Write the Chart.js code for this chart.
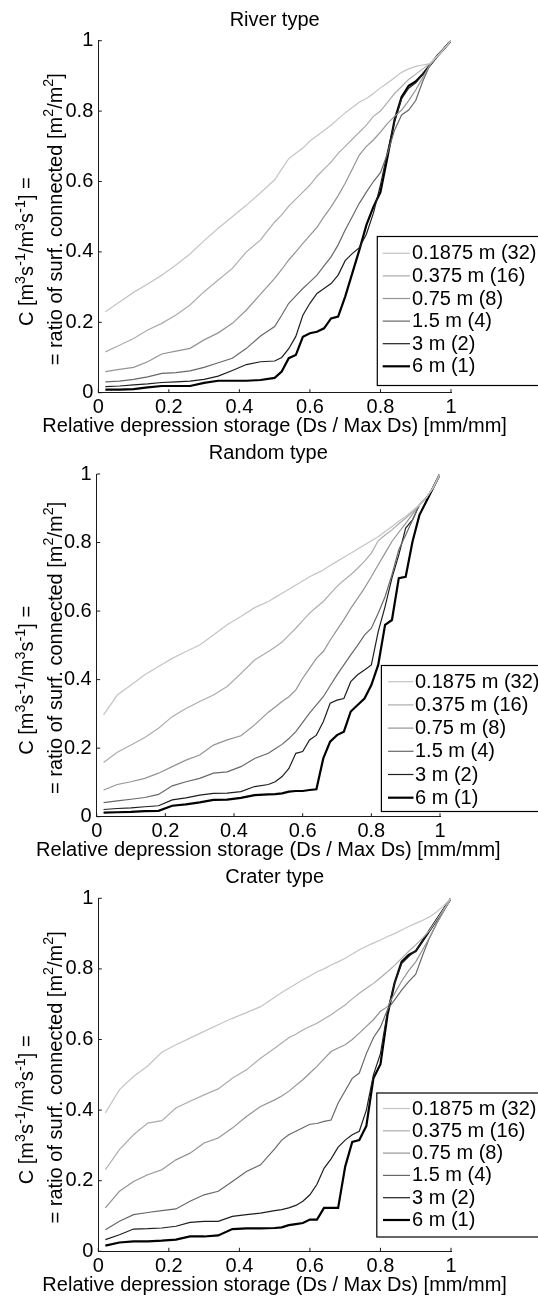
<!DOCTYPE html>
<html><head><meta charset="utf-8">
<script src="https://cdn.jsdelivr.net/npm/chart.js@4.4.0/dist/chart.umd.min.js"></script>
<style>
html,body{margin:0;padding:0;background:#fff;width:538px;height:1297px;overflow:hidden;}
canvas{position:absolute;left:0;}
</style></head><body>
<canvas id="c1"></canvas><canvas id="c2"></canvas><canvas id="c3"></canvas>
<script>
// ---------- data ----------
const xs = [0.02,0.06,0.10,0.14,0.18,0.22,0.26,0.30,0.34,0.38,0.42,0.46,
            0.50,0.52,0.54,0.56,0.58,0.60,0.62,0.64,0.66,0.68,
            0.70,0.72,0.74,0.76,0.78,0.80,0.82,0.84,0.86,0.88,
            0.90,0.92,0.94,0.96,0.98,1.00];
const seriesLabels = ['0.1875 m (32)','0.375 m (16)','0.75 m (8)','1.5 m (4)','3 m (2)','6 m (1)'];
const panelTitles = ['River type','Random type','Crater type'];
const tickValues = [0,0.2,0.4,0.6,0.8,1];
const tickLabels = ['0','0.2','0.4','0.6','0.8','1'];
const xAxisTitle = 'Relative depression storage (Ds / Max Ds) [mm/mm]';

const river1875 = [0.23,0.258,0.285,0.309,0.334,0.363,0.394,0.432,0.467,0.50,0.533,0.568,0.605,0.635,0.665,0.68,0.695,0.715,0.73,0.745,0.76,0.778,0.795,0.81,0.825,0.836,0.85,0.866,0.88,0.895,0.91,0.92,0.927,0.931,0.935,0.955,0.977,1.0];
const river375 = [0.116,0.135,0.154,0.178,0.197,0.221,0.249,0.287,0.32,0.353,0.40,0.434,0.485,0.505,0.53,0.55,0.57,0.59,0.615,0.635,0.655,0.68,0.70,0.72,0.74,0.76,0.785,0.80,0.825,0.85,0.87,0.89,0.905,0.92,0.935,0.955,0.977,1.0];
const river75 = [0.06,0.066,0.072,0.088,0.11,0.118,0.126,0.15,0.17,0.197,0.235,0.28,0.325,0.35,0.377,0.40,0.424,0.447,0.47,0.50,0.528,0.56,0.595,0.635,0.675,0.70,0.718,0.74,0.765,0.785,0.803,0.83,0.86,0.895,0.93,0.955,0.977,1.0];
const river15 = [0.031,0.033,0.038,0.045,0.055,0.057,0.062,0.072,0.085,0.098,0.126,0.161,0.188,0.22,0.254,0.275,0.296,0.315,0.334,0.36,0.386,0.42,0.462,0.50,0.538,0.57,0.60,0.625,0.68,0.746,0.789,0.803,0.83,0.885,0.93,0.955,0.977,1.0];
const river3 = [0.017,0.019,0.022,0.025,0.029,0.031,0.033,0.038,0.047,0.063,0.08,0.088,0.09,0.10,0.125,0.16,0.22,0.254,0.282,0.296,0.31,0.334,0.375,0.395,0.412,0.45,0.51,0.59,0.685,0.77,0.835,0.865,0.88,0.905,0.93,0.955,0.977,1.0];
const river6 = [0.009,0.009,0.01,0.015,0.019,0.019,0.019,0.028,0.034,0.034,0.034,0.036,0.042,0.06,0.098,0.107,0.159,0.169,0.173,0.183,0.211,0.216,0.273,0.339,0.405,0.476,0.528,0.57,0.67,0.775,0.84,0.872,0.884,0.905,0.93,0.955,0.977,1.0];

const random1875 = [0.297,0.355,0.384,0.414,0.438,0.462,0.482,0.501,0.53,0.56,0.584,0.61,0.628,0.64,0.652,0.664,0.676,0.688,0.70,0.71,0.72,0.733,0.745,0.757,0.769,0.781,0.793,0.805,0.817,0.832,0.847,0.862,0.876,0.893,0.91,0.93,0.96,1.0];
const random375 = [0.158,0.188,0.209,0.231,0.258,0.292,0.316,0.336,0.355,0.38,0.418,0.457,0.482,0.495,0.51,0.53,0.55,0.572,0.594,0.611,0.628,0.65,0.672,0.69,0.706,0.725,0.745,0.769,0.805,0.822,0.837,0.855,0.871,0.89,0.91,0.93,0.96,1.0];
const random75 = [0.078,0.094,0.102,0.112,0.127,0.146,0.165,0.18,0.209,0.224,0.236,0.268,0.305,0.32,0.336,0.35,0.37,0.404,0.433,0.462,0.482,0.515,0.545,0.575,0.608,0.637,0.667,0.70,0.735,0.769,0.803,0.83,0.856,0.883,0.91,0.93,0.96,1.0];
const random15 = [0.041,0.046,0.051,0.056,0.065,0.09,0.102,0.112,0.127,0.131,0.146,0.17,0.185,0.198,0.211,0.228,0.248,0.275,0.302,0.326,0.35,0.382,0.414,0.443,0.472,0.50,0.53,0.55,0.594,0.642,0.706,0.779,0.822,0.866,0.91,0.93,0.96,1.0];
const random3 = [0.021,0.024,0.026,0.029,0.032,0.049,0.055,0.063,0.068,0.069,0.073,0.088,0.094,0.102,0.117,0.141,0.185,0.19,0.224,0.238,0.277,0.331,0.34,0.345,0.394,0.414,0.428,0.443,0.54,0.613,0.696,0.764,0.842,0.866,0.91,0.93,0.96,1.0];
const random6 = [0.012,0.013,0.014,0.016,0.017,0.032,0.036,0.042,0.049,0.05,0.055,0.063,0.065,0.066,0.068,0.073,0.075,0.075,0.078,0.08,0.17,0.219,0.238,0.248,0.307,0.326,0.345,0.384,0.443,0.56,0.574,0.696,0.70,0.803,0.88,0.92,0.96,1.0];

const crater1875 = [0.392,0.458,0.495,0.525,0.564,0.585,0.604,0.623,0.642,0.66,0.676,0.693,0.72,0.733,0.745,0.757,0.769,0.78,0.792,0.80,0.811,0.82,0.83,0.842,0.854,0.864,0.873,0.882,0.892,0.90,0.91,0.92,0.929,0.938,0.948,0.962,0.98,1.0];
const crater375 = [0.231,0.288,0.33,0.363,0.37,0.406,0.425,0.443,0.46,0.49,0.514,0.547,0.575,0.59,0.605,0.615,0.627,0.637,0.646,0.658,0.67,0.684,0.698,0.715,0.731,0.745,0.759,0.775,0.792,0.81,0.83,0.85,0.868,0.888,0.91,0.94,0.97,1.0];
const crater75 = [0.123,0.17,0.198,0.217,0.231,0.259,0.278,0.307,0.321,0.349,0.382,0.41,0.429,0.44,0.453,0.47,0.486,0.505,0.524,0.545,0.566,0.576,0.585,0.60,0.618,0.637,0.656,0.68,0.693,0.73,0.765,0.795,0.82,0.855,0.89,0.93,0.965,1.0];
const crater15 = [0.061,0.085,0.104,0.11,0.115,0.12,0.142,0.16,0.17,0.198,0.226,0.245,0.29,0.315,0.33,0.34,0.35,0.36,0.362,0.368,0.372,0.42,0.455,0.49,0.505,0.56,0.605,0.635,0.685,0.712,0.74,0.764,0.785,0.84,0.89,0.93,0.965,1.0];
const crater3 = [0.033,0.047,0.063,0.064,0.066,0.071,0.082,0.085,0.085,0.099,0.104,0.108,0.115,0.118,0.123,0.13,0.142,0.16,0.19,0.235,0.262,0.295,0.315,0.33,0.34,0.40,0.50,0.56,0.68,0.76,0.815,0.835,0.852,0.88,0.91,0.94,0.97,1.0];
const crater6 = [0.016,0.025,0.028,0.028,0.03,0.033,0.042,0.042,0.045,0.063,0.065,0.065,0.066,0.068,0.074,0.077,0.08,0.09,0.09,0.123,0.123,0.123,0.24,0.31,0.315,0.355,0.49,0.53,0.67,0.76,0.82,0.84,0.85,0.88,0.91,0.94,0.97,1.0];

// ---------- styling ----------
const FONT = '"Liberation Sans", Arial, Helvetica, sans-serif';
const lineColors = ['#c4c4c4','#acacac','#949494','#686868','#1e1e1e','#000000'];
const lineWidths = [1.2,1.2,1.2,1.2,1.2,2.2];
const axisColor = '#1a1a1a';

const panels = [
  {id:'c1', top:0,   h:445, cTop:40.7, cBottom:392.7, left:98.3, right:451,
   series:[river1875,river375,river75,river15,river3,river6],
   leg:{top:236.5, bottom:385.5, left:377.3, row0:253.3, dy:22.6, l0:382.7, l1:410, tx:412}},
  {id:'c2', top:430, h:440, cTop:474, cBottom:816.7, left:96.7, right:440,
   series:[random1875,random375,random75,random15,random3,random6],
   leg:{top:665.5, bottom:811.5, left:381.4, row0:681.7, dy:23.2, l0:388, l1:413.5, tx:415}},
  {id:'c3', top:862, h:435, cTop:898.3, cBottom:1251.3, left:98.3, right:451,
   series:[crater1875,crater375,crater75,crater15,crater3,crater6],
   leg:{top:1093, bottom:1237, left:376.8, row0:1108.5, dy:22.3, l0:383, l1:410, tx:412}}
];

function segsWidth(ctx, segs, size){
  let w=0;
  for(const [t,sup] of segs){ ctx.font=(sup?size*0.72:size)+'px '+FONT; w+=ctx.measureText(t).width; }
  return w;
}
function drawSegs(ctx, segs, x, y, size){
  let cx=x;
  for(const [t,sup] of segs){
    ctx.font=(sup?size*0.72:size)+'px '+FONT;
    ctx.fillText(t, cx, sup? y-size*0.42 : y);
    cx+=ctx.measureText(t).width;
  }
}
const yLine1 = [['C [m',0],['3',1],['s',0],['-1',1],['/m',0],['3',1],['s',0],['-1',1],['] =',0]];
const yLine2 = [['= ratio of surf. connected [m',0],['2',1],['/m',0],['2',1],[']',0]];

panels.forEach((P, pi) => {
  const cv = document.getElementById(P.id);
  cv.width = 538; cv.height = P.h; cv.style.top = P.top + 'px';
  const off = P.top;
  const datasets = P.series.map((vals, i) => ({
    label: seriesLabels[i],
    data: xs.map((x, j) => ({x: x, y: vals[j]})),
    borderColor: lineColors[i],
    borderWidth: lineWidths[i],
    pointRadius: 0, tension: 0, fill: false
  }));
  const deco = {
    id: 'deco'+pi,
    afterDatasetsDraw(chart){
      const ctx = chart.ctx, ca = chart.chartArea;
      const xS = chart.scales.x, yS = chart.scales.y;
      ctx.save();
      // inward ticks
      ctx.strokeStyle = axisColor; ctx.lineWidth = 1;
      ctx.beginPath();
      tickValues.forEach(v => {
        const px = xS.getPixelForValue(v);
        ctx.moveTo(px, ca.bottom); ctx.lineTo(px, ca.bottom - 3.5);
        const py = yS.getPixelForValue(v);
        ctx.moveTo(ca.left, py); ctx.lineTo(ca.left + 3.5, py);
      });
      ctx.stroke();
      // legend
      const L = P.leg;
      const lt = L.top - off, lb = L.bottom - off;
      ctx.fillStyle = '#fff';
      ctx.fillRect(L.left, lt, 600 - L.left, lb - lt);
      ctx.strokeStyle = '#000'; ctx.lineWidth = 1.2;
      ctx.strokeRect(L.left, lt, 600 - L.left, lb - lt);
      chart.data.datasets.forEach((ds, i) => {
        const ry = L.row0 - off + i * L.dy;
        ctx.strokeStyle = ds.borderColor; ctx.lineWidth = ds.borderWidth;
        ctx.beginPath(); ctx.moveTo(L.l0, ry); ctx.lineTo(L.l1, ry); ctx.stroke();
        ctx.fillStyle = '#000'; ctx.font = '20px ' + FONT;
        ctx.textAlign = 'left'; ctx.textBaseline = 'middle';
        ctx.fillText(ds.label, L.tx, ry + 0.5);
      });
      // title and axis titles
      ctx.fillStyle = '#000'; ctx.textBaseline = 'alphabetic';
      ctx.font = '20px ' + FONT; ctx.textAlign = 'center';
      const cx = (ca.left + ca.right) / 2;
      ctx.fillText(panelTitles[pi], cx, ca.top - 15.2);
      ctx.fillText(xAxisTitle, cx, ca.bottom + 39.5);
      ctx.textAlign = 'left';
      const mid = (ca.top + ca.bottom) / 2;
      [[yLine1, 33, mid + 35], [yLine2, 61.5, mid + 2.5]].forEach(([segs, bx, cy]) => {
        const w = segsWidth(ctx, segs, 20);
        ctx.save();
        ctx.translate(bx, cy); ctx.rotate(-Math.PI / 2);
        drawSegs(ctx, segs, -w / 2, 0, 20);
        ctx.restore();
      });
      ctx.restore();
    }
  };
  new Chart(cv, {
    type: 'line',
    data: {datasets},
    options: {
      responsive: false, animation: false, devicePixelRatio: 1,
      layout: {padding: {top: P.cTop - off, right: 538 - P.right, left: 0, bottom: 0}},
      plugins: {legend: {display: false}, tooltip: {enabled: false}, title: {display: false}},
      scales: {
        x: {
          type: 'linear', min: 0, max: 1,
          afterFit(s){ s.height = P.h - (P.cBottom - off); },
          afterBuildTicks(s){ s.ticks = tickValues.map(v => ({value: v})); },
          grid: {display: false, drawTicks: false},
          border: {display: true, color: axisColor, width: 1},
          ticks: {padding: 3, color: '#000', font: {family: FONT, size: 20}, maxRotation: 0, autoSkip: false,
                  callback: (v, i) => tickLabels[i]}
        },
        y: {
          type: 'linear', min: 0, max: 1,
          afterFit(s){ s.width = P.left; },
          afterBuildTicks(s){ s.ticks = tickValues.map(v => ({value: v})); },
          grid: {display: false, drawTicks: false},
          border: {display: true, color: axisColor, width: 1},
          ticks: {padding: 5, color: '#000', font: {family: FONT, size: 20}, autoSkip: false,
                  callback: (v, i) => tickLabels[i]}
        }
      }
    },
    plugins: [deco]
  });
});
</script>
</body></html>
